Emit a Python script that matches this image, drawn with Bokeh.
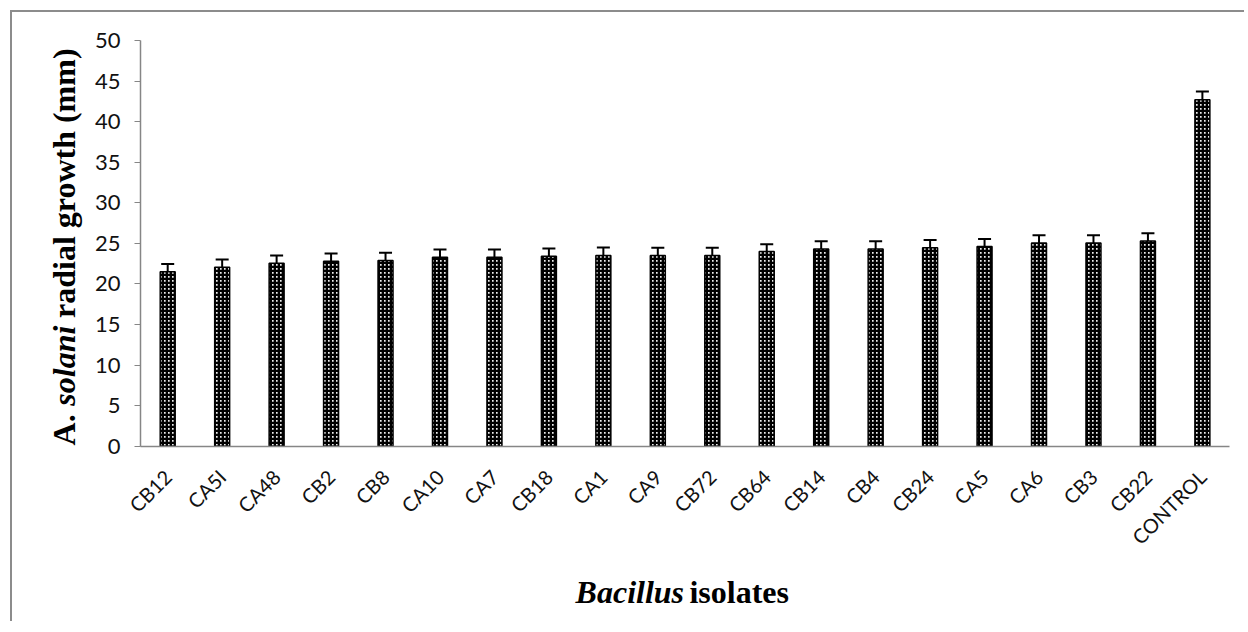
from math import pi
from bokeh.plotting import figure
from bokeh.models import (ColumnDataSource, Whisker, TeeHead, Label, LinearAxis,
                          Range1d, SingleIntervalTicker, FixedTicker)
from bokeh.embed import file_html
from bokeh.resources import INLINE

isolates = ["CB12", "CA5I", "CA48", "CB2", "CB8", "CA10", "CA7", "CB18", "CA1", "CA9",
            "CB72", "CB64", "CB14", "CB4", "CB24", "CA5", "CA6", "CB3", "CB22", "CONTROL"]
growth = [21.5, 22.05, 22.55, 22.8, 22.9, 23.3, 23.3, 23.4, 23.5, 23.5,
          23.5, 24.0, 24.3, 24.3, 24.45, 24.6, 25.05, 25.05, 25.3, 42.7]
errors = [0.95, 0.95, 0.95, 0.95, 0.95, 0.95, 0.95, 0.95, 1.0, 0.95,
          0.95, 0.9, 0.95, 0.95, 0.95, 0.95, 0.95, 0.95, 0.95, 1.0]
y_ticks_interval = 5
y_axis_bounds = (0, 50)

positions = [i + 0.5 for i in range(len(isolates))]
src = ColumnDataSource(dict(
    x=positions, name=isolates, top=growth,
    upper=[g + e for g, e in zip(growth, errors)],
    lower=[g - e for g, e in zip(growth, errors)],
))

p = figure(x_range=Range1d(-2.35, 20.31), y_range=Range1d(-21.85, 53.45),
           width=1234, height=611, output_backend="svg", toolbar_location=None,
           x_axis_location=None, y_axis_location=None, min_border=0)
p.styles = {"border-top": "2px solid #8c8c8c", "border-left": "2px solid #8c8c8c",
            "margin-top": "10px", "margin-left": "10px"}
p.outline_line_color = None
p.grid.grid_line_color = None

p.vbar(x="x", top="top", width=0.275, source=src,
       fill_color="#eeeeee", line_color="black", line_width=1.5,
       hatch_pattern="cross", hatch_color="#000000", hatch_scale=4, hatch_weight=2.7)

wh = Whisker(base="x", upper="upper", lower="lower", source=src,
             line_color="black", line_width=2,
             upper_head=TeeHead(size=13, line_color="black", line_width=2),
             lower_head=TeeHead(size=13, line_color="black", line_width=2))
p.add_layout(wh)

yaxis = LinearAxis(fixed_location=0, bounds=y_axis_bounds,
                   ticker=SingleIntervalTicker(interval=y_ticks_interval))
yaxis.axis_line_color = "#868686"
yaxis.axis_line_width = 1.5
yaxis.major_tick_line_color = "#868686"
yaxis.major_tick_out = 6
yaxis.major_tick_in = 0
yaxis.minor_tick_line_color = None
yaxis.major_label_text_font = "Lato"
yaxis.major_label_text_font_size = "22px"
yaxis.major_label_text_color = "#111111"
yaxis.major_label_standoff = 14
p.add_layout(yaxis, "left")

xaxis = LinearAxis(fixed_location=0, bounds=(0, len(isolates)),
                   ticker=FixedTicker(ticks=positions),
                   major_label_overrides=dict(zip(positions, isolates)))
xaxis.axis_line_color = "#868686"
xaxis.axis_line_width = 1.5
xaxis.major_tick_line_color = None
xaxis.minor_tick_line_color = None
xaxis.major_label_orientation = pi / 4
xaxis.major_label_text_font = "Lato"
xaxis.major_label_text_font_size = "20px"
xaxis.major_label_text_color = "#111111"
xaxis.major_label_standoff = 21
p.add_layout(xaxis, "below")

serif = "Liberation Serif"
ylab = [("A.", "bold", 0.1), ("solani", "bold italic", 5.0), ("radial growth (mm)", "bold", 15.8)]
for txt, style, yv in ylab:
    p.add_layout(Label(x=-1.41, y=yv, angle=pi / 2,
                       text=txt, text_font=serif, text_font_style=style,
                       text_font_size="32px", text_color="black",
                       text_align="left", text_baseline="alphabetic"))

xlab = [("Bacillus", "bold italic", 7.99), ("isolates", "bold", 10.08)]
for txt, style, xv in xlab:
    p.add_layout(Label(x=xv, y=-18.0,
                       text=txt, text_font=serif, text_font_style=style,
                       text_font_size="32px", text_color="black",
                       text_align="left", text_baseline="alphabetic"))

open("out.html", "w").write(file_html(p, INLINE))
